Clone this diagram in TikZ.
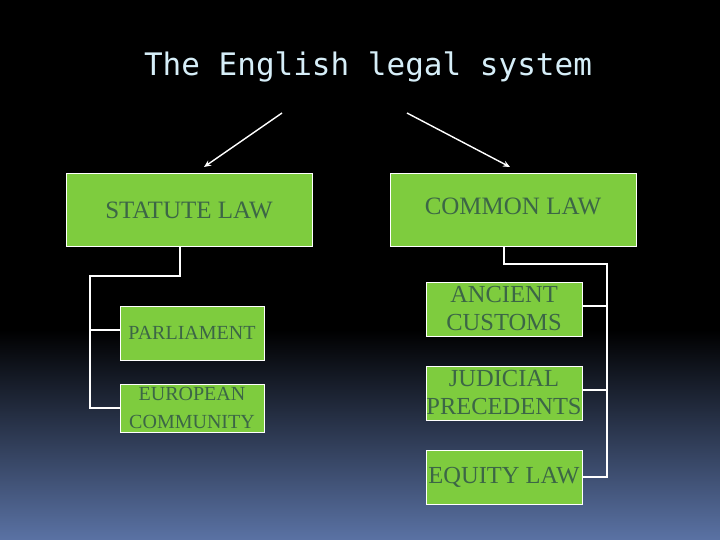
\documentclass[tikz,border=0pt]{standalone}
\usepackage{fontspec}
\setmainfont{Liberation Serif}
\newfontfamily\titlefont{DejaVu Sans Mono}
\usetikzlibrary{arrows.meta}
\definecolor{boxgreen}{RGB}{126,204,62}
\definecolor{boxtext}{RGB}{60,102,70}
\definecolor{titleblue}{RGB}{214,238,248}
\definecolor{bgbottom}{RGB}{90,114,164}
\tikzset{
  box/.style={draw=white, line width=1pt, fill=boxgreen, text=boxtext, inner sep=0pt, align=center},
  bigbox/.style={box, minimum width=246pt, minimum height=72pt, font=\fontsize{25}{28}\selectfont},
  lbox/.style={box, minimum width=144pt, minimum height=54pt, font=\fontsize{20}{28}\selectfont},
  rbox/.style={box, minimum width=156pt, minimum height=54pt, font=\fontsize{24.5}{28}\selectfont},
  conn/.style={draw=white, line width=1.2pt},
  arr/.style={draw=white, line width=1.4pt, -{Stealth[length=7pt,width=6pt]}}
}
\begin{document}
\begin{tikzpicture}[x=1pt,y=-1pt]
\useasboundingbox (0,0) rectangle (720,540);
\fill[black] (0,0) rectangle (720,331);
\shade[top color=black, bottom color=bgbottom] (0,330) rectangle (720,540);
\node[text=titleblue, font=\titlefont\fontsize{31}{34}\selectfont] (title) at (368,67) {The English legal system};
\node[bigbox] (stat) at (189,210) {STATUTE LAW};
\node[bigbox] (com) at (513,210) {\raisebox{8pt}{COMMON LAW}};
\node[lbox] (par) at (192,333) {PARLIAMENT};
\node[lbox, minimum height=48pt] (ec) at (192,408) {EUROPEAN\\COMMUNITY};
\node[rbox] (anc) at (504,309) {ANCIENT\\CUSTOMS};
\node[rbox] (jud) at (504,393) {JUDICIAL\\PRECEDENTS};
\node[rbox] (eq) at (504,477) {EQUITY LAW};
\coordinate (a1) at (282,113);
\coordinate (a2) at (407,113);
\coordinate (e1) at (204,167);
\coordinate (e2) at (510,167);
\draw[arr] (a1) -- (e1);
\draw[arr] (a2) -- (e2);
\coordinate (lbus) at (90,276);
\coordinate (rbus) at (607,264);
\draw[conn] ([xshift=-9pt]stat.south) |- (lbus) |- (ec.west);
\draw[conn] ([yshift=3pt]par.west -| lbus) -- ([yshift=3pt]par.west);
\draw[conn] ([xshift=-9pt]com.south) |- (rbus) |- (eq.east);
\draw[conn] ([yshift=3pt]anc.east -| rbus) -- ([yshift=3pt]anc.east);
\draw[conn] ([yshift=3pt]jud.east -| rbus) -- ([yshift=3pt]jud.east);
\end{tikzpicture}
\end{document}
